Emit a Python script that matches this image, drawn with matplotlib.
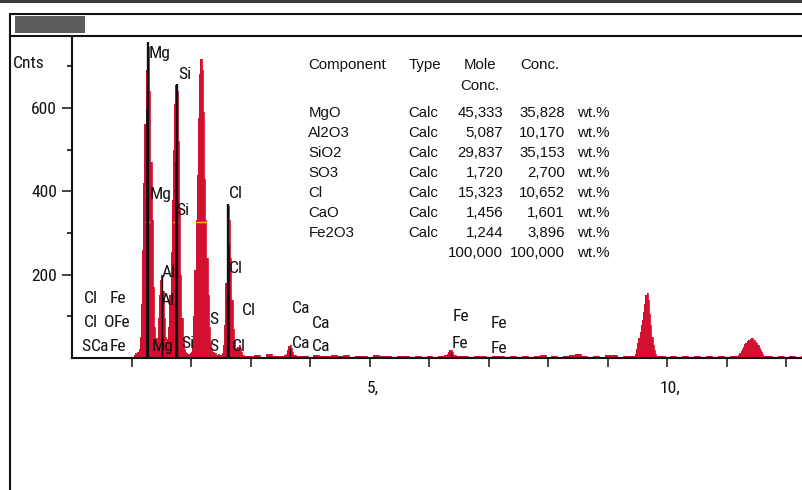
import os
import numpy as np
import matplotlib
matplotlib.use("Agg")
import matplotlib.pyplot as plt
import matplotlib.transforms as mtransforms
from matplotlib import font_manager as fm
from matplotlib.patches import Rectangle
from matplotlib.lines import Line2D

# ---------------- data ----------------
# spectrum, low-energy part: channel counts every 0.02 keV starting at 1.00 keV
low_start = 1.00
low_counts = [0, 3, 8, 12, 10, 14, 22, 50, 130, 260,
              420, 560, 690, 755, 745, 640, 470, 330, 170, 75,
              42, 48, 95, 150, 188, 198, 160, 95, 50, 38,
              45, 75, 150, 255, 380, 500, 610, 655, 640, 520,
              360, 200, 95, 42, 22, 15, 12, 10, 9, 11,
              14, 40, 100, 210, 330, 440, 575, 680, 718, 690,
              590, 430, 330, 240, 150, 75, 35, 20, 14, 10,
              12, 8, 6, 9, 7, 8, 12, 30, 80, 180,
              300, 365, 330, 240, 140, 70, 40, 25, 20, 26,
              30, 24, 14, 8, 6, 4]
# background counts every 0.1 keV from 2.9 keV
bg_start = 2.9
bg_counts = [5, 4, 6, 3, 9, 4, 5, 6, 8, 4,
             5, 3, 6, 4, 5, 7, 4, 6, 3, 4,
             5, 3, 6, 4, 5, 3, 4, 5, 3, 4,
             3, 5, 3, 4, 6, 8, 4, 5, 3, 4,
             5, 3, 4, 5, 3, 4, 3, 5, 3, 4,
             6, 3, 4, 3, 4, 7, 9, 4, 3, 4,
             3, 7, 8, 3, 4, 5, 6, 6, 5, 5,
             4, 3, 4, 3, 5, 3, 4, 3, 4, 3,
             4, 3, 4, 4, 5, 5, 5, 5, 4, 3,
             4, 3, 4, 3, 4, 3, 4, 3, 4, 3, 3]
# smaller peaks: (start keV, counts every 0.02 keV)
ca_start, ca_counts = 3.58, [6, 10, 18, 28, 31, 24, 14, 8]
fe_start, fe_counts = 6.28, [5, 9, 14, 19, 19, 14, 8, 5]
aula_start, aula_counts = 9.44, [4, 10, 22, 35, 48, 62, 78, 90, 110, 130,
                                 150, 157, 140, 105, 80, 50, 30, 18, 10, 5]
aulb_start, aulb_counts = 11.18, [4, 8, 12, 17, 21, 27, 33, 37, 40, 42, 44, 46,
                                  47, 44, 42, 38, 36, 32, 25, 18, 14, 9, 5]

# element marker lines (keV, counts, width)
marker_e = [1.269, 1.255, 1.499, 1.51, 1.751, 1.738, 2.618, 2.632, 3.66, 6.36]
marker_h = [757, 600, 200, 160, 658, 470, 369, 270, 25, 15]
marker_w = [1.7, 1.2, 1.0, 1.0, 1.7, 1.2, 1.7, 1.2, 1.0, 1.0]

# half-height markers (keV from, keV to) at counts
fw_level = 326
fw_from = [1.22, 1.69, 2.08]
fw_to = [1.31, 1.77, 2.26]

# element labels: (text, keV at left edge, counts at visual centre)
labels = [("Mg", 1.274, 734), ("Si", 1.778, 683), ("Mg", 1.300, 395),
          ("Si", 1.751, 357), ("Cl", 2.635, 399), ("Al", 1.499, 209),
          ("Al", 1.482, 141), ("Cl", 2.635, 219), ("Cl", 2.844, 117),
          ("S", 2.299, 95), ("S", 2.299, 31), ("Cl", 2.676, 31),
          ("Mg", 1.331, 31), ("Si", 1.835, 39),
          ("Ca", 3.684, 123), ("Ca", 4.02, 87), ("Ca", 3.684, 39), ("Ca", 4.02, 31),
          ("Fe", 6.395, 103), ("Fe", 6.378, 39), ("Fe", 7.034, 87), ("Fe", 7.034, 27),
          ("Cl", 0.193, 147), ("Fe", 0.618, 147), ("Cl", 0.193, 89),
          ("O", 0.519, 89), ("Fe", 0.690, 89), ("S", 0.155, 31),
          ("Ca", 0.306, 31), ("Fe", 0.618, 31)]

# x tick values / labels, y ticks
x_ticks = list(range(1, 14))
x_tick_labels = {5: "5,", 10: "10,"}
y_major = [200, 400, 600]
y_minor = [100, 300, 500, 700]

# quantification table
components = ["MgO", "Al2O3", "SiO2", "SO3", "Cl", "CaO", "Fe2O3"]
types = ["Calc"] * 7
mole_conc = [45.333, 5.087, 29.837, 1.720, 15.323, 1.456, 1.244]
wt_conc = [35.828, 10.170, 35.153, 2.700, 10.652, 1.601, 3.896]
total_mole = 100.000
total_wt = 100.000
unit = "wt.%"

# ---------------- fonts ----------------
def find_narrow():
    files = [f.fname for f in fm.fontManager.ttflist]
    prefs = ["LiberationSansNarrow-Regular", "RobotoCondensed-Regular",
             "Roboto_Condensed-Regular", "NotoSans-Condensed.", "NotoSans-CondensedRegular",
             "OpenSans-CondensedRegular", "OpenSans_Condensed-Regular",
             "NotoSans-SemiCondensed.", "DejaVuSansCondensed."]
    for p in prefs:
        for fn in files:
            if p.lower() in os.path.basename(fn).lower():
                return fm.FontProperties(fname=fn), True
    for f in fm.fontManager.ttflist:
        if f.stretch in ("condensed", "semi-condensed") and f.style == "normal" \
                and f.weight in (400, "normal", "regular"):
            return fm.FontProperties(fname=f.fname), True
    return fm.FontProperties(family=["Liberation Sans", "DejaVu Sans"]), False

NFP, IS_NARROW = find_narrow()
NSIZE = 12.6 if IS_NARROW else 10.5

def nfp(size=NSIZE):
    p = NFP.copy()
    p.set_size(size)
    return p

RED = "#d31030"
INK = "#111111"
W, H = 803, 490
PXK = 59.5      # pixels per keV
X0 = 72.5       # pixel of 0 keV
Y0 = 358        # pixel of 0 counts
PXC = 0.417     # pixels per count

fig = plt.figure(figsize=(W / 100, H / 100), dpi=100)
fig.patch.set_facecolor("white")

def fx(x):
    return x / W

def fy(y):
    return 1 - y / H

right_px = 850
ax = fig.add_axes([fx(X0), fy(Y0), (right_px - X0) / W, (Y0 - 36) / H])
ax.set_xlim(0, (right_px - X0) / PXK)
ax.set_ylim(0, (Y0 - 36) / PXC)
ax.patch.set_alpha(0)
for s in ("top", "right"):
    ax.spines[s].set_visible(False)
for s in ("left", "bottom"):
    ax.spines[s].set_linewidth(1.5)
    ax.spines[s].set_color(INK)

def seg(start, counts, step):
    e = np.round(start + step * np.arange(len(counts)), 3)
    return e, np.asarray(counts, float)

for start, counts, step in [(bg_start, bg_counts, 0.1), (low_start, low_counts, 0.02),
                            (ca_start, ca_counts, 0.02), (fe_start, fe_counts, 0.02),
                            (aula_start, aula_counts, 0.02), (aulb_start, aulb_counts, 0.02)]:
    e, c = seg(start, counts, step)
    ax.fill_between(e, 0, c, step="mid", color=RED, lw=0, zorder=2)
    ax.step(e, c, where="mid", color=RED, lw=0.6, zorder=2)

ax.hlines([fw_level] * len(fw_from), fw_from, fw_to, color="#f2c200", lw=1.0, zorder=3)
ax.vlines(marker_e, 0, marker_h, color=INK, lw=marker_w, zorder=4)

off = mtransforms.ScaledTranslation(0, -0.06, fig.dpi_scale_trans)
for txt, e, c in labels:
    ax.text(e, c, txt, ha="left", va="baseline", fontproperties=nfp(), color=INK,
            transform=ax.transData + off, zorder=5)

# ticks
ax.set_xticks(x_ticks)
ax.set_xticklabels([x_tick_labels.get(t, "") for t in x_ticks])
ax.tick_params(axis="x", direction="out", length=6.5, width=1.1, pad=10, colors=INK)
shift = mtransforms.ScaledTranslation(0.025, 0, fig.dpi_scale_trans)
for lbl in ax.get_xticklabels():
    lbl.set_fontproperties(nfp())
    lbl.set_transform(lbl.get_transform() + shift)
ax.set_yticks(y_major)
ax.set_yticklabels([str(v) for v in y_major])
ax.set_yticks(y_minor, minor=True)
ax.tick_params(axis="y", which="major", direction="out", length=7.2, width=1.1, pad=4,
               colors=INK)
ax.tick_params(axis="y", which="minor", direction="out", length=3.6, width=1.1)
for lbl in ax.get_yticklabels():
    lbl.set_fontproperties(nfp())

# window frame
fig.add_artist(Rectangle((0, fy(3)), 1, 3 / H, transform=fig.transFigure,
                         color="#3c3c3c", lw=0))
for (xa, ya, xb, yb) in [(10.5, 14, 803, 14), (10.5, 36, 803, 36), (10.5, 14, 10.5, 490)]:
    fig.add_artist(Line2D([fx(xa), fx(xb)], [fy(ya), fy(yb)], transform=fig.transFigure,
                          color=INK, lw=1.5))
fig.add_artist(Rectangle((fx(15), fy(33)), 70 / W, 17 / H, transform=fig.transFigure,
                         color="#5c5c5c", lw=0))
fig.text(fx(13), fy(61.7 + 6), "Cnts", ha="left", va="baseline", fontproperties=nfp(),
         color=INK)

# table
TF = dict(fontsize=10.8, family=["Liberation Sans", "DejaVu Sans"], color=INK,
          va="baseline")
b = 5.4
fig.text(fx(308.3), fy(63.3 + b), "Component", ha="left", **TF)
fig.text(fx(408.3), fy(63.3 + b), "Type", ha="left", **TF)
fig.text(fx(463.3), fy(63.3 + b), "Mole", ha="left", **TF)
fig.text(fx(460.0), fy(85.0 + b), "Conc.", ha="left", **TF)
fig.text(fx(520.0), fy(63.3 + b), "Conc.", ha="left", **TF)

def fmt(v):
    return f"{v:.3f}".replace(".", ",")

row_y = [111.7 + 20 * i for i in range(len(components))]
for i, yy in enumerate(row_y):
    fig.text(fx(308.3), fy(yy + b), components[i], ha="left", **TF)
    fig.text(fx(408.3), fy(yy + b), types[i], ha="left", **TF)
    fig.text(fx(503.3), fy(yy + b), fmt(mole_conc[i]), ha="right", **TF)
    fig.text(fx(565.0), fy(yy + b), fmt(wt_conc[i]), ha="right", **TF)
    fig.text(fx(576.7), fy(yy + b), unit, ha="left", **TF)
yt = row_y[-1] + 20
fig.text(fx(503.3), fy(yt + b), fmt(total_mole), ha="right", **TF)
fig.text(fx(565.0), fy(yt + b), fmt(total_wt), ha="right", **TF)
fig.text(fx(576.7), fy(yt + b), unit, ha="left", **TF)

fig.savefig("out.png", dpi=100, facecolor="white")
